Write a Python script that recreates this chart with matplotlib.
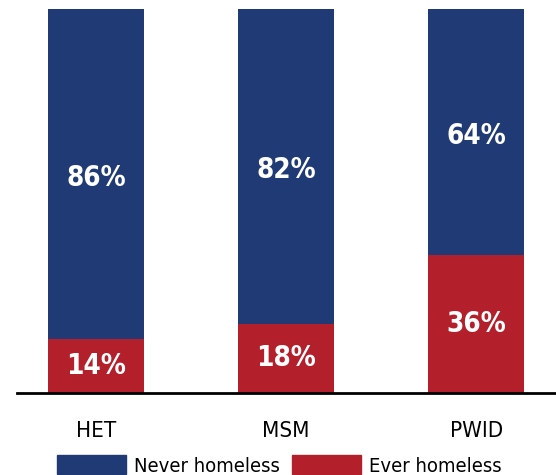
import matplotlib.pyplot as plt
from matplotlib.patches import Patch

plt.rcParams['font.family'] = ['DejaVu Sans']
plt.rcParams['font.stretch'] = 'condensed'

groups = ["HET", "MSM", "PWID"]
ever = [14, 18, 36]
never = [86, 82, 64]

blue = "#1f3a75"
red = "#b31f2a"

fig = plt.figure(figsize=(5.56, 4.75), dpi=100)
ax = fig.add_axes([17 / 556, 82 / 475, 539 / 556, 384 / 475])

x = range(len(groups))
ax.bar(x, ever, width=0.505, color=red)
ax.bar(x, never, width=0.505, bottom=ever, color=blue)

for i in x:
    ax.text(i, ever[i] / 2, f"{ever[i]}%", ha="center", va="center",
            color="white", fontsize=20, fontweight="bold")
    ax.text(i, ever[i] + never[i] / 2 - 1, f"{never[i]}%", ha="center", va="center",
            color="white", fontsize=20, fontweight="bold")

ax.set_xlim(-0.416, 2.42)
ax.set_ylim(0, 100)
ax.set_xticks(list(x))
ax.set_xticklabels(groups, fontsize=16)
ax.tick_params(axis="x", length=0, pad=20)
ax.set_yticks([])
for s in ["top", "right", "left"]:
    ax.spines[s].set_visible(False)
ax.spines["bottom"].set_linewidth(2)

handles = [Patch(color=blue, label="Never homeless"), Patch(color=red, label="Ever homeless")]
fig.legend(handles=handles, loc="upper left", bbox_to_anchor=(57 / 556, 20 / 475),
           ncol=2, frameon=False, fontsize=14.5, handlelength=3.43, handleheight=1.1,
           handletextpad=0.4, columnspacing=0.6, borderpad=0, borderaxespad=0)

fig.savefig("out.png", dpi=100)
